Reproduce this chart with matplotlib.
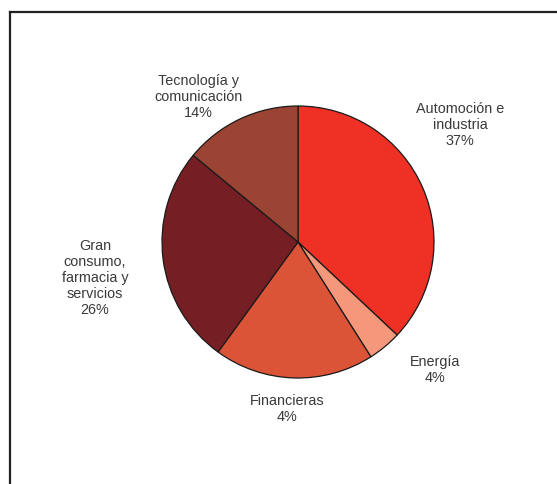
import matplotlib
matplotlib.use("Agg")
import matplotlib.pyplot as plt
from matplotlib.lines import Line2D

# data (clockwise from 12 o'clock)
sectors = ["Automoción e\nindustria", "Energía", "Financieras",
           "Gran\nconsumo,\nfarmacia y\nservicios", "Tecnología y\ncomunicación"]
values = [37, 4, 19, 26, 14]
pct_labels = ["37%", "4%", "4%", "26%", "14%"]
colors = ["#ee3124", "#f4977b", "#db5438", "#751e23", "#9c4434"]

# label anchors in pixel coords (x, y from top)
label_pos = [(460, 125), (435, 370), (287, 409), (95, 278), (198, 97)]

W, H = 557, 485
plt.rcParams["font.family"] = ["Liberation Sans", "DejaVu Sans"]

fig = plt.figure(figsize=(W / 100, H / 100), dpi=100)
fig.patch.set_facecolor("white")
ax = fig.add_axes([0, 0, 1, 1])

ax.pie(values, colors=colors, startangle=90, counterclock=False,
       center=(298, H - 243), radius=136,
       wedgeprops=dict(edgecolor="#1a1a1a", linewidth=0.9))

for name, pct, (px, py) in zip(sectors, pct_labels, label_pos):
    ax.text(px, H - py, f"{name}\n{pct}", ha="center", va="center",
            fontsize=10.4, color="#3a3a3a", linespacing=1.18)

ax.set_xlim(0, W)
ax.set_ylim(0, H)
ax.set_aspect("equal")
ax.axis("off")

# open frame: top + left only
fig.add_artist(Line2D([9.5 / W, 1], [1 - 13 / H, 1 - 13 / H], color="#222222",
                      linewidth=1.6, transform=fig.transFigure))
fig.add_artist(Line2D([9.5 / W, 9.5 / W], [1 - 13 / H, 0], color="#222222",
                      linewidth=1.6, transform=fig.transFigure))

fig.savefig("out.png", dpi=100, facecolor="white")
